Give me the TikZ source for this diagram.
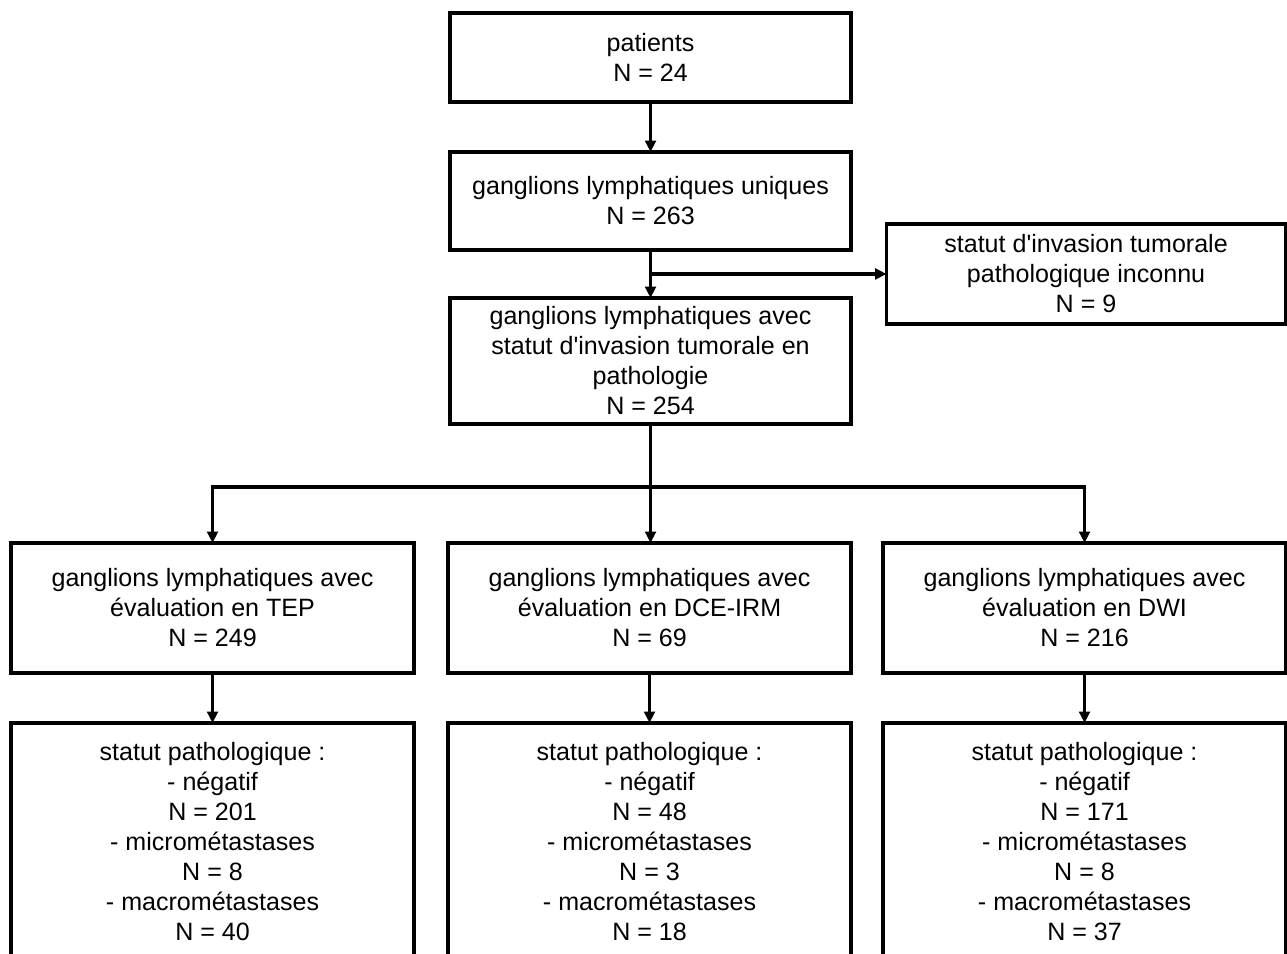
\documentclass[tikz,border=0pt]{standalone}
\usepackage{fontspec}
\newfontfamily\boxfont{Liberation Sans}
\usetikzlibrary{arrows.meta,positioning,calc}

\begin{document}
\begin{tikzpicture}[>={Triangle[length=8.5pt,width=8pt]}, line width=2.5pt, every text node part/.style={align=center},
    flowbox/.style={draw, rectangle, inner sep=0pt, outer sep=0pt, minimum width=302.25pt, font=\boxfont\fontsize{18.8pt}{22.5pt}\selectfont}]
    \clip (0,0) rectangle (965.25pt,-714.75pt);
    \node [flowbox, minimum width=300.75pt, minimum height=66.75pt] (patients) at (487.9pt,-43.1pt) {patients\\N = 24};
    \node [flowbox, minimum width=300.75pt, minimum height=73.5pt, below=37.5pt of patients] (uniques) {ganglions lymphatiques uniques\\N = 263};
    \node [flowbox, minimum width=300.75pt, minimum height=94.5pt, below=36pt of uniques] (pathologie) {ganglions lymphatiques avec\\statut d'invasion tumorale en\\pathologie\\N = 254};
    \coordinate (split1) at ($(uniques.south)!0.5!(pathologie.north)$);
    \node [flowbox, minimum width=299.25pt, minimum height=75pt, right=177pt of split1] (inconnu) {statut d'invasion tumorale\\pathologique inconnu\\N = 9};
    \coordinate [below=47.25pt of pathologie] (split2);

    \node [flowbox, minimum height=97.5pt, below=89.25pt of pathologie, xshift=-0.75pt] (dce) {ganglions lymphatiques avec\\évaluation en DCE-IRM\\N = 69};
    \node [flowbox, minimum height=97.5pt, left=25.5pt of dce] (tep) {ganglions lymphatiques avec\\évaluation en TEP\\N = 249};
    \node [flowbox, minimum height=97.5pt, right=24pt of dce] (dwi) {ganglions lymphatiques avec\\évaluation en DWI\\N = 216};

    \node [flowbox, minimum height=178.5pt, below=37.5pt of tep] (tepstatut) {statut pathologique :\\- négatif\\N = 201\\- micrométastases\\N = 8\\- macrométastases\\N = 40};
    \node [flowbox, minimum height=178.5pt, below=37.5pt of dce] (dcestatut) {statut pathologique :\\- négatif\\N = 48\\- micrométastases\\N = 3\\- macrométastases\\N = 18};
    \node [flowbox, minimum height=178.5pt, below=37.5pt of dwi] (dwistatut) {statut pathologique :\\- négatif\\N = 171\\- micrométastases\\N = 8\\- macrométastases\\N = 37};

    \draw [->] (patients) -- (uniques);
    \draw [->] (uniques) -- (pathologie);
    \draw [->] (split1) -- (inconnu);
    \draw (pathologie) -- (split2);
    \draw [->] (split2) -| (tep);
    \draw [->] (split2) -- (split2 |- dce.north);
    \draw [->] (split2) -| (dwi);
    \draw [->] (tep) -- (tepstatut);
    \draw [->] (dce) -- (dcestatut);
    \draw [->] (dwi) -- (dwistatut);
\end{tikzpicture}
\end{document}
